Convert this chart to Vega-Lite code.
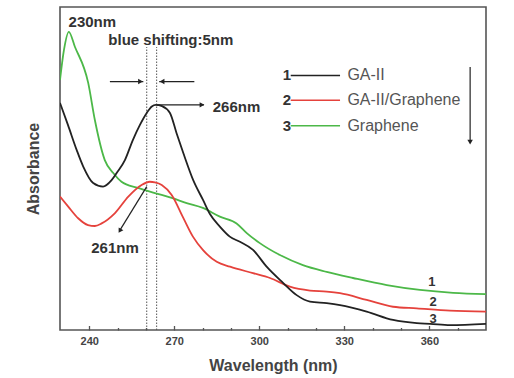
{
  "$schema": "https://vega.github.io/schema/vega-lite/v6.json",
  "autosize": {"type": "none"},
  "padding": {"left": 60, "top": 7, "right": 28, "bottom": 48},
  "width": 426,
  "height": 323,
  "background": "white",
  "config": {
    "view": {"stroke": "#555555", "strokeWidth": 1.6},
    "font": "Liberation Sans"
  },
  "datasets": {
    "curves": [
      {"series": "Graphene", "wl": 229.7, "abs": 0.774},
      {"series": "Graphene", "wl": 231.1, "abs": 0.867},
      {"series": "Graphene", "wl": 232.8, "abs": 0.923},
      {"series": "Graphene", "wl": 234.95, "abs": 0.877},
      {"series": "Graphene", "wl": 239.65, "abs": 0.765},
      {"series": "Graphene", "wl": 242.0, "abs": 0.65},
      {"series": "Graphene", "wl": 245.5, "abs": 0.526},
      {"series": "Graphene", "wl": 248.5, "abs": 0.486},
      {"series": "Graphene", "wl": 251.4, "abs": 0.459},
      {"series": "Graphene", "wl": 257.2, "abs": 0.44},
      {"series": "Graphene", "wl": 263.2, "abs": 0.424},
      {"series": "Graphene", "wl": 269.1, "abs": 0.409},
      {"series": "Graphene", "wl": 274.4, "abs": 0.393},
      {"series": "Graphene", "wl": 280.1, "abs": 0.378},
      {"series": "Graphene", "wl": 286.1, "abs": 0.351},
      {"series": "Graphene", "wl": 292.0, "abs": 0.33},
      {"series": "Graphene", "wl": 295.6, "abs": 0.3},
      {"series": "Graphene", "wl": 300.2, "abs": 0.269},
      {"series": "Graphene", "wl": 307.3, "abs": 0.232},
      {"series": "Graphene", "wl": 315.4, "abs": 0.201},
      {"series": "Graphene", "wl": 323.8, "abs": 0.18},
      {"series": "Graphene", "wl": 333.1, "abs": 0.161},
      {"series": "Graphene", "wl": 345.0, "abs": 0.139},
      {"series": "Graphene", "wl": 356.7, "abs": 0.124},
      {"series": "Graphene", "wl": 368.4, "abs": 0.115},
      {"series": "Graphene", "wl": 380.0, "abs": 0.111},

      {"series": "GA-II/Graphene", "wl": 229.7, "abs": 0.413},
      {"series": "GA-II/Graphene", "wl": 232.6, "abs": 0.382},
      {"series": "GA-II/Graphene", "wl": 236.1, "abs": 0.346},
      {"series": "GA-II/Graphene", "wl": 239.6, "abs": 0.325},
      {"series": "GA-II/Graphene", "wl": 242.0, "abs": 0.322},
      {"series": "GA-II/Graphene", "wl": 244.4, "abs": 0.33},
      {"series": "GA-II/Graphene", "wl": 249.1, "abs": 0.362},
      {"series": "GA-II/Graphene", "wl": 253.8, "abs": 0.413},
      {"series": "GA-II/Graphene", "wl": 258.5, "abs": 0.449},
      {"series": "GA-II/Graphene", "wl": 261.4, "abs": 0.459},
      {"series": "GA-II/Graphene", "wl": 263.2, "abs": 0.457},
      {"series": "GA-II/Graphene", "wl": 265.6, "abs": 0.449},
      {"series": "GA-II/Graphene", "wl": 269.1, "abs": 0.418},
      {"series": "GA-II/Graphene", "wl": 273.2, "abs": 0.347},
      {"series": "GA-II/Graphene", "wl": 276.6, "abs": 0.289},
      {"series": "GA-II/Graphene", "wl": 280.1, "abs": 0.248},
      {"series": "GA-II/Graphene", "wl": 285.0, "abs": 0.211},
      {"series": "GA-II/Graphene", "wl": 289.7, "abs": 0.196},
      {"series": "GA-II/Graphene", "wl": 297.8, "abs": 0.176},
      {"series": "GA-II/Graphene", "wl": 303.8, "abs": 0.161},
      {"series": "GA-II/Graphene", "wl": 310.8, "abs": 0.134},
      {"series": "GA-II/Graphene", "wl": 317.9, "abs": 0.122},
      {"series": "GA-II/Graphene", "wl": 323.8, "abs": 0.119},
      {"series": "GA-II/Graphene", "wl": 328.5, "abs": 0.114},
      {"series": "GA-II/Graphene", "wl": 337.9, "abs": 0.093},
      {"series": "GA-II/Graphene", "wl": 347.2, "abs": 0.072},
      {"series": "GA-II/Graphene", "wl": 355.6, "abs": 0.067},
      {"series": "GA-II/Graphene", "wl": 367.3, "abs": 0.06},
      {"series": "GA-II/Graphene", "wl": 380.0, "abs": 0.057},

      {"series": "GA-II", "wl": 229.7, "abs": 0.703},
      {"series": "GA-II", "wl": 232.5, "abs": 0.635},
      {"series": "GA-II", "wl": 235.6, "abs": 0.557},
      {"series": "GA-II", "wl": 237.9, "abs": 0.506},
      {"series": "GA-II", "wl": 241.4, "abs": 0.455},
      {"series": "GA-II", "wl": 244.9, "abs": 0.444},
      {"series": "GA-II", "wl": 247.9, "abs": 0.464},
      {"series": "GA-II", "wl": 249.7, "abs": 0.486},
      {"series": "GA-II", "wl": 252.6, "abs": 0.526},
      {"series": "GA-II", "wl": 255.4, "abs": 0.588},
      {"series": "GA-II", "wl": 257.9, "abs": 0.635},
      {"series": "GA-II", "wl": 260.3, "abs": 0.672},
      {"series": "GA-II", "wl": 262.1, "abs": 0.692},
      {"series": "GA-II", "wl": 263.5, "abs": 0.697},
      {"series": "GA-II", "wl": 265.7, "abs": 0.693},
      {"series": "GA-II", "wl": 268.5, "abs": 0.672},
      {"series": "GA-II", "wl": 270.8, "abs": 0.61},
      {"series": "GA-II", "wl": 273.2, "abs": 0.548},
      {"series": "GA-II", "wl": 276.7, "abs": 0.464},
      {"series": "GA-II", "wl": 280.2, "abs": 0.402},
      {"series": "GA-II", "wl": 282.6, "abs": 0.359},
      {"series": "GA-II", "wl": 286.1, "abs": 0.32},
      {"series": "GA-II", "wl": 289.6, "abs": 0.289},
      {"series": "GA-II", "wl": 293.2, "abs": 0.273},
      {"series": "GA-II", "wl": 297.8, "abs": 0.248},
      {"series": "GA-II", "wl": 302.6, "abs": 0.196},
      {"series": "GA-II", "wl": 308.4, "abs": 0.146},
      {"series": "GA-II", "wl": 313.2, "abs": 0.108},
      {"series": "GA-II", "wl": 317.9, "abs": 0.088},
      {"series": "GA-II", "wl": 323.8, "abs": 0.083},
      {"series": "GA-II", "wl": 328.5, "abs": 0.077},
      {"series": "GA-II", "wl": 337.9, "abs": 0.057},
      {"series": "GA-II", "wl": 347.2, "abs": 0.031},
      {"series": "GA-II", "wl": 355.6, "abs": 0.021},
      {"series": "GA-II", "wl": 360.3, "abs": 0.019},
      {"series": "GA-II", "wl": 367.3, "abs": 0.015},
      {"series": "GA-II", "wl": 380.0, "abs": 0.019}
    ],
    "dotted": [
      {"wl": 260.3, "abs": 0, "abs2": 0.876},
      {"wl": 263.8, "abs": 0, "abs2": 0.876}
    ],
    "arrows": [
      {"wl": 247.3, "wl2": 259.1, "abs": 0.769, "abs2": 0.769},
      {"wl": 277.1, "wl2": 264.7, "abs": 0.769, "abs2": 0.769},
      {"wl": 263.9, "wl2": 280.5, "abs": 0.697, "abs2": 0.697},
      {"wl": 260.3, "wl2": 250.7, "abs": 0.444, "abs2": 0.307},
      {"wl": 374.4, "wl2": 374.4, "abs": 0.814, "abs2": 0.585}
    ],
    "headsRight": [
      {"wl": 258.1, "abs": 0.769},
      {"wl": 279.8, "abs": 0.697}
    ],
    "headsLeft": [
      {"wl": 265.7, "abs": 0.769}
    ],
    "headsDown": [
      {"wl": 374.4, "abs": 0.582}
    ],
    "headsDiag": [
      {"wl": 250.8, "abs": 0.307}
    ],
    "boldCenter": [
      {"wl": 241.1, "abs": 0.954, "label": "230nm"},
      {"wl": 268.8, "abs": 0.898, "label": "blue shifting:5nm"},
      {"wl": 249.1, "abs": 0.254, "label": "261nm"},
      {"wl": 309.8, "abs": 0.788, "label": "1"},
      {"wl": 309.8, "abs": 0.711, "label": "2"},
      {"wl": 309.8, "abs": 0.632, "label": "3"}
    ],
    "curveLabels": [
      {"wl": 360.9, "abs": 0.148, "label": "1"},
      {"wl": 361.3, "abs": 0.087, "label": "2"},
      {"wl": 361.3, "abs": 0.035, "label": "3"}
    ],
    "boldLeft": [
      {"wl": 283.6, "abs": 0.69, "label": "266nm"}
    ],
    "legendLines": [
      {"series": "GA-II", "wl": 311.1, "wl2": 328.5, "abs": 0.788},
      {"series": "GA-II/Graphene", "wl": 311.1, "wl2": 328.5, "abs": 0.711},
      {"series": "Graphene", "wl": 311.1, "wl2": 328.5, "abs": 0.632}
    ],
    "legendLabels": [
      {"wl": 331.1, "abs": 0.788, "label": "GA-II"},
      {"wl": 331.1, "abs": 0.711, "label": "GA-II/Graphene"},
      {"wl": 331.1, "abs": 0.632, "label": "Graphene"}
    ]
  },
  "encoding": {
    "x": {
      "field": "wl",
      "type": "quantitative",
      "scale": {"domain": [229.7, 380], "nice": false, "zero": false},
      "axis": {
        "title": "Wavelength (nm)",
        "values": [240, 250, 260, 270, 280, 290, 300, 310, 320, 330, 340, 350, 360, 370],
        "labelExpr": "datum.value % 30 == 0 ? datum.label : ''",
        "tickSize": {"condition": {"test": "datum.value % 30 == 0", "value": -4.5}, "value": -2.5},
        "tickColor": "#555555",
        "tickWidth": 1.3,
        "grid": false,
        "domain": false,
        "labelFont": "Liberation Sans",
        "labelFontWeight": "bold",
        "labelFontSize": 11,
        "labelColor": "#444444",
        "labelPadding": 10,
        "titleFont": "Liberation Sans",
        "titleFontWeight": "bold",
        "titleFontSize": 16,
        "titleColor": "#444444",
        "titlePadding": 11
      }
    },
    "y": {
      "field": "abs",
      "type": "quantitative",
      "scale": {"domain": [0, 1], "nice": false, "zero": false},
      "axis": {
        "title": "Absorbance",
        "labels": false,
        "ticks": false,
        "domain": false,
        "grid": false,
        "titleFont": "Liberation Sans",
        "titleFontWeight": "bold",
        "titleFontSize": 16,
        "titleColor": "#444444",
        "titlePadding": 19
      }
    }
  },
  "layer": [
    {
      "data": {"name": "dotted"},
      "mark": {"type": "rule", "color": "#555555", "strokeWidth": 1, "strokeDash": [1.5, 1.5]},
      "encoding": {"y2": {"field": "abs2"}}
    },
    {
      "data": {"name": "curves"},
      "mark": {"type": "line", "strokeWidth": 1.8, "interpolate": "monotone", "clip": true},
      "encoding": {
        "color": {
          "field": "series",
          "type": "nominal",
          "scale": {"domain": ["GA-II", "GA-II/Graphene", "Graphene"], "range": ["#222222", "#e5423c", "#4cb848"]},
          "legend": null
        },
        "order": {"field": "wl", "type": "quantitative"}
      }
    },
    {
      "data": {"name": "arrows"},
      "mark": {"type": "rule", "color": "#222222", "strokeWidth": 1.2},
      "encoding": {"x2": {"field": "wl2"}, "y2": {"field": "abs2"}}
    },
    {
      "data": {"name": "headsRight"},
      "mark": {"type": "point", "shape": "triangle-right", "filled": true, "color": "#222222", "size": 30, "opacity": 1},
      "encoding": {}
    },
    {
      "data": {"name": "headsLeft"},
      "mark": {"type": "point", "shape": "triangle-left", "filled": true, "color": "#222222", "size": 30, "opacity": 1},
      "encoding": {}
    },
    {
      "data": {"name": "headsDown"},
      "mark": {"type": "point", "shape": "triangle-down", "filled": true, "color": "#222222", "size": 30, "opacity": 1},
      "encoding": {}
    },
    {
      "data": {"name": "headsDiag"},
      "mark": {"type": "point", "shape": "triangle-down", "filled": true, "color": "#222222", "size": 30, "opacity": 1, "angle": 31},
      "encoding": {}
    },
    {
      "data": {"name": "legendLines"},
      "mark": {"type": "rule", "strokeWidth": 1.5},
      "encoding": {
        "x2": {"field": "wl2"},
        "color": {"field": "series", "type": "nominal", "legend": null}
      }
    },
    {
      "data": {"name": "boldCenter"},
      "mark": {"type": "text", "font": "Liberation Sans", "fontWeight": "bold", "fontSize": 15, "color": "#333333", "align": "center", "baseline": "middle"},
      "encoding": {"text": {"field": "label"}}
    },
    {
      "data": {"name": "curveLabels"},
      "mark": {"type": "text", "font": "Liberation Sans", "fontWeight": "bold", "fontSize": 13, "color": "#333333", "align": "center", "baseline": "middle"},
      "encoding": {"text": {"field": "label"}}
    },
    {
      "data": {"name": "boldLeft"},
      "mark": {"type": "text", "font": "Liberation Sans", "fontWeight": "bold", "fontSize": 15, "color": "#333333", "align": "left", "baseline": "middle"},
      "encoding": {"text": {"field": "label"}}
    },
    {
      "data": {"name": "legendLabels"},
      "mark": {"type": "text", "font": "Liberation Sans", "fontSize": 16, "color": "#555555", "align": "left", "baseline": "middle"},
      "encoding": {"text": {"field": "label"}}
    }
  ]
}
